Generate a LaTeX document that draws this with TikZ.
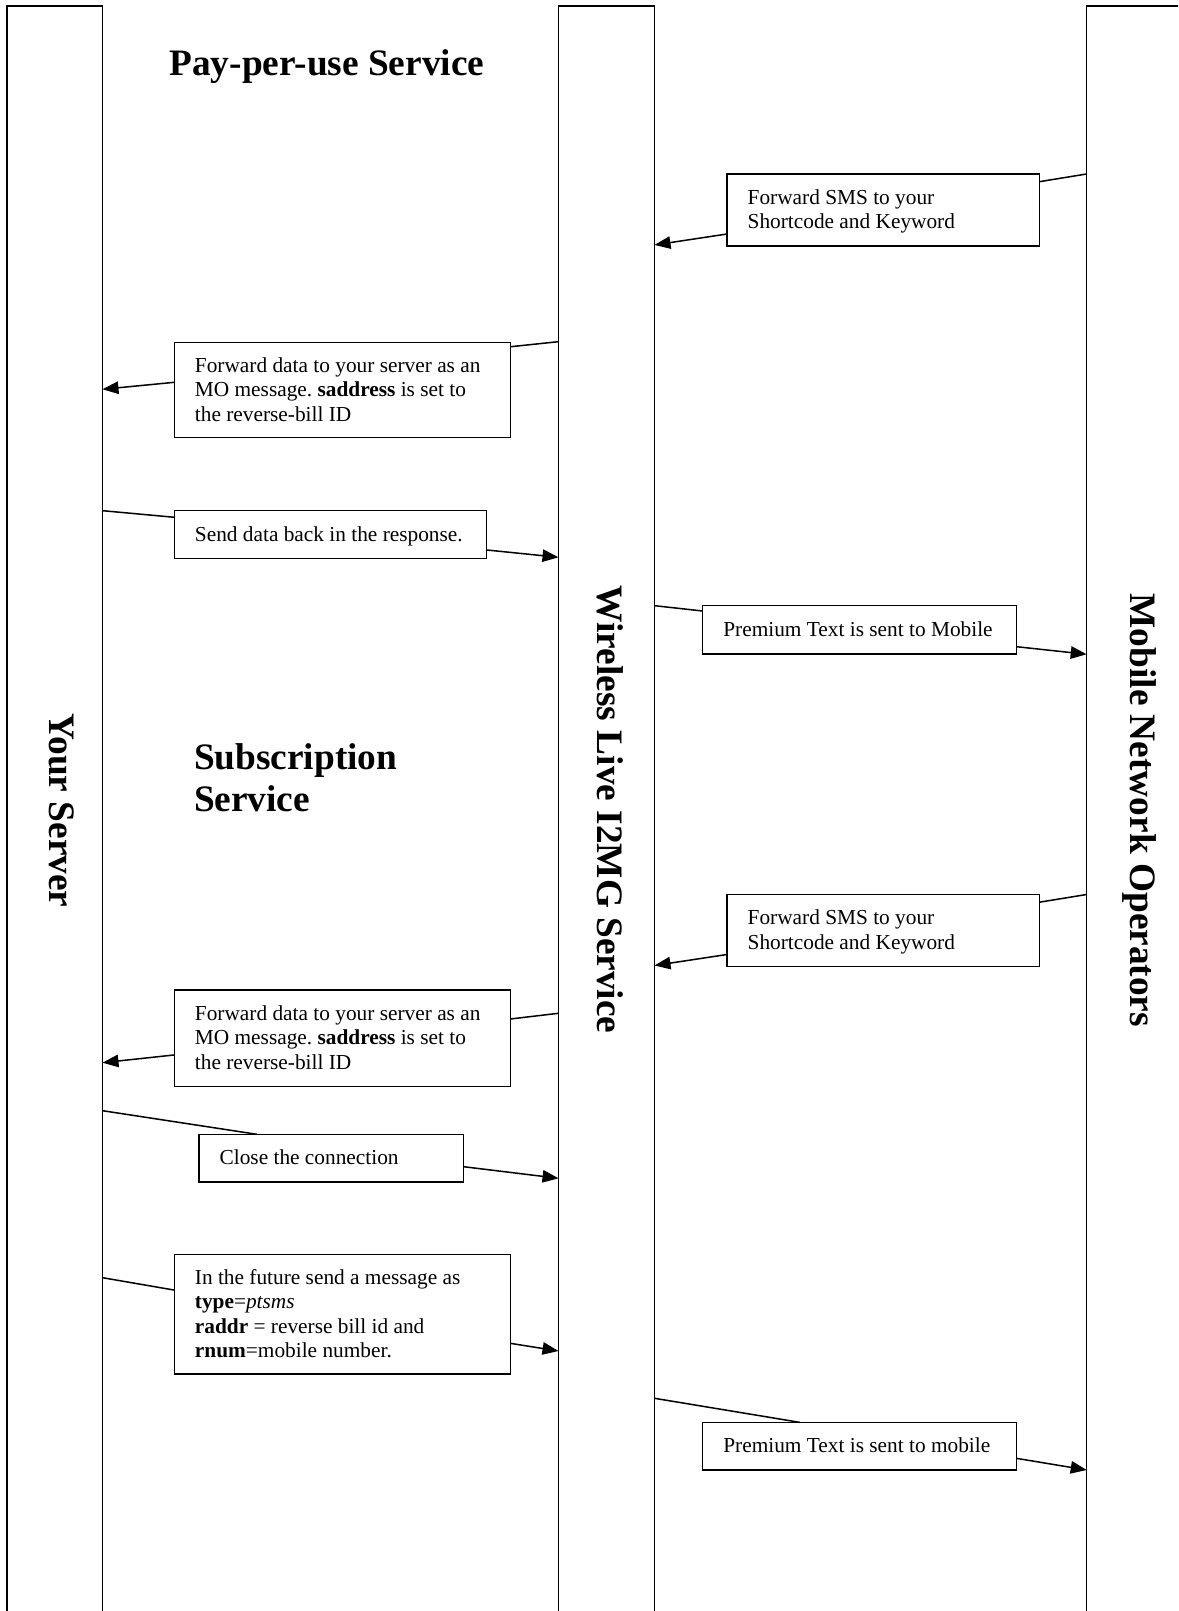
\documentclass[tikz,border=0pt]{standalone}
\usepackage{fontspec}
\setmainfont{Liberation Serif}
\usetikzlibrary{arrows.meta,calc}
\newcommand{\ms}{\rule[-3.14pt]{0pt}{13.8pt}}
\begin{document}
\begin{tikzpicture}[x=0.5625pt,y=-0.5625pt,
  every node/.style={outer sep=0pt},
  lane/.style={draw, line width=0.85pt, inner sep=0pt, minimum height=952.9pt},
  msg/.style={draw, line width=0.85pt, inner xsep=11.6pt, inner ysep=0pt, align=flush left, font=\fontsize{12}{13.8}\selectfont\frenchspacing},
  lanetitle/.style={font=\fontsize{21}{24.15}\selectfont\bfseries, inner sep=0pt, rotate=-90, anchor=base},
  heading/.style={font=\fontsize{21}{24.15}\selectfont\bfseries, inner sep=0pt, align=flush left},
  link/.style={line width=0.85pt},
  arrowlink/.style={line width=0.85pt, -{Triangle[length=9pt,width=7pt]}}
]
\useasboundingbox (0,0) rectangle (1178,1611);
\clip (0,0) rectangle (1178,1611);
\fill[white] (0,0) rectangle (1178,1611);

% lanes
\node[lane, minimum width=53.7pt] (ys) at (54.75,853) {};
\node[lane, minimum width=54pt] (i2) at (606.5,853) {};
\node[lane, minimum width=58.1pt] (mn) at (1138.35,853) {};

\node[lanetitle] (ysT) at (49,810.5) {Your Server};
\node[lanetitle] (i2T) at (597,809.7) {Wireless Live I2MG Service};
\node[lanetitle] (mnT) at (1130,810.3) {Mobile Network Operators};

% headings
\node[heading, anchor=base west] (ppu) at (169.5,76) {Pay-per-use Service};
\node[heading, anchor=north west] (sub) at (194,740.6) {\rule{0pt}{16pt}Subscription\\Service};

% message boxes
\node[msg, text width=152.5pt, minimum height=40.5pt] (b1) at (883.2,210)
  {\ms Forward SMS to your\\Shortcode and Keyword\ms};
\node[msg, text width=166pt, minimum height=53.2pt] (b2) at (342.5,390)
  {\ms Forward data to your server as an\\MO message. \textbf{saddress} is set to\\the reverse-bill ID\ms};
\node[msg, text width=152.5pt, minimum height=26.8pt] (b3) at (330.5,534.5)
  {\ms Send data back in the response.\ms};
\node[msg, text width=153.4pt, minimum height=27.2pt] (b4) at (859.7,629.9)
  {\ms\mbox{Premium Text is sent to Mobile}\ms};
\node[msg, text width=152.5pt, minimum height=40.5pt] (b5) at (883.2,930.5)
  {\ms Forward SMS to your\\Shortcode and Keyword\ms};
\node[msg, text width=166pt, minimum height=54.4pt] (b6) at (342.5,1038.3)
  {\ms Forward data to your server as an\\MO message. \textbf{saddress} is set to\\the reverse-bill ID\ms};
\node[msg, text width=125.5pt, minimum height=26.7pt] (b7) at (331.2,1158)
  {\ms Close the connection\ms};
\node[msg, text width=166pt, minimum height=67.3pt] (b8) at (342.5,1314.2)
  {\ms In the future send a message as\\\textbf{type}=\textit{ptsms}\\\textbf{raddr} = reverse bill id and\\\textbf{rnum}=mobile number.\ms};
\node[msg, text width=153.4pt, minimum height=26.8pt] (b9) at (859.7,1446.2)
  {\ms\mbox{Premium Text is sent to mobile}\ms};

% connectors
\draw[link] ($(mn.north west)+(0,168)$) -- ($(b1.north east)+(0,7.7)$);
\draw[arrowlink] ($(b1.north west)+(0,60)$) -- ($(i2.north east)+(0,239)$);

\draw[link] ($(i2.north west)+(0,335.7)$) -- ($(b2.north east)+(0,4)$);
\draw[arrowlink] ($(b2.north west)+(0,39.6)$) -- ($(ys.north east)+(0,383.3)$);

\draw[link] ($(ys.north east)+(0,504.7)$) -- ($(b3.north west)+(0,6.6)$);
\draw[arrowlink] ($(b3.north east)+(0,39.3)$) -- ($(i2.north west)+(0,551.3)$);

\draw[link] ($(i2.north east)+(0,599.7)$) -- ($(b4.north west)+(0,5.3)$);
\draw[arrowlink] ($(b4.north east)+(0,41)$) -- ($(mn.north west)+(0,648.3)$);

\draw[link] ($(mn.north west)+(0,888.5)$) -- ($(b5.north east)+(0,7.7)$);
\draw[arrowlink] ($(b5.north west)+(0,60)$) -- ($(i2.north east)+(0,959.5)$);

\draw[link] ($(i2.north west)+(0,1007.3)$) -- ($(b6.north east)+(0,29)$);
\draw[arrowlink] ($(b6.north west)+(0,65)$) -- ($(ys.north east)+(0,1056.7)$);

\draw[link] ($(ys.north east)+(0,1104.7)$) -- ($(b7.north west)+(57.7,0)$);
\draw[arrowlink] ($(b7.north east)+(0,32.4)$) -- ($(i2.north west)+(0,1172.3)$);

\draw[link] ($(ys.north east)+(0,1271.7)$) -- ($(b8.north west)+(0,35.7)$);
\draw[arrowlink] ($(b8.north east)+(0,89)$) -- ($(i2.north west)+(0,1345)$);

\draw[link] ($(i2.north east)+(0,1392.3)$) -- ($(b9.north west)+(97.3,0)$);
\draw[arrowlink] ($(b9.north east)+(0,36)$) -- ($(mn.north west)+(0,1464)$);
\end{tikzpicture}
\end{document}
